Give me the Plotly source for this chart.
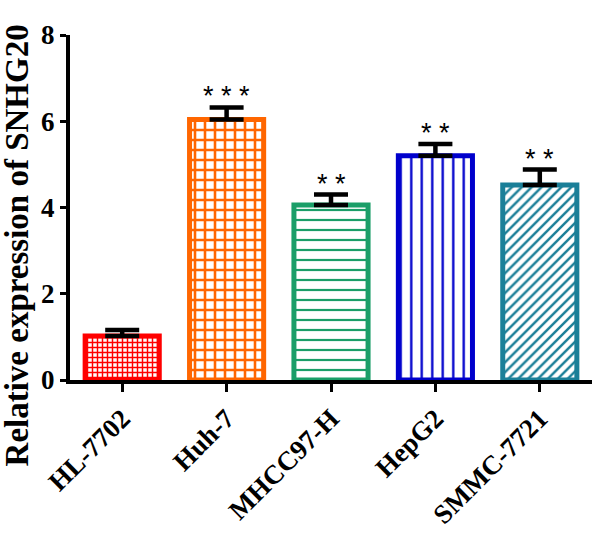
import plotly.graph_objects as go

cells = ["HL-7702", "Huh-7", "MHCC97-H", "HepG2", "SMMC-7721"]
expr = [1.02, 6.04, 4.06, 5.2, 4.52]
sem = [0.14, 0.28, 0.24, 0.27, 0.36]
stars = ["", "***", "**", "**", "**"]

colors = ["#FF0000", "#FF6600", "#1A9E68", "#0000CC", "#1A7F98"]
shapes = ["+", "+", "-", "|", "/"]
sizes = [5, 10, 10, 10.5, 7]
solid = [0.5, 0.45, 0.22, 0.22, 0.35]

font = "Liberation Serif"

fig = go.Figure()
for i, c in enumerate(cells):
    fig.add_trace(go.Bar(
        x=[c], y=[expr[i]],
        width=0.71,
        marker=dict(
            color="white",
            line=dict(color=colors[i], width=5),
            pattern=dict(shape=shapes[i], fgcolor=colors[i], bgcolor="white",
                         fgopacity=1, size=sizes[i], solidity=solid[i],
                         fillmode="replace"),
        ),
        error_y=dict(type="data", array=[sem[i]], arrayminus=[0], symmetric=False,
                     color="black", thickness=4.5, width=17),
        showlegend=False,
    ))

# significance marks above the error bars
for i, c in enumerate(cells):
    if stars[i]:
        fig.add_annotation(x=c, y=expr[i] + sem[i], text=" ".join(stars[i]),
                           showarrow=False, yanchor="bottom", yshift=-6,
                           font=dict(family="Liberation Sans", size=27, color="black"))

# y title as a free annotation (it sits lower than the axis centre in the original)
fig.add_annotation(xref="paper", yref="paper", x=0, y=0.39, xshift=-33,
                   xanchor="right", yanchor="middle", textangle=-90, showarrow=False,
                   text="Relative expression of SNHG20",
                   font=dict(family=font, size=33, color="black", weight="bold"))

fig.update_layout(
    width=600, height=533,
    margin=dict(l=70, r=8, t=35, b=153),
    paper_bgcolor="white", plot_bgcolor="white",
    font=dict(family=font, color="black"),
)
fig.update_xaxes(
    type="category", range=[-0.5, 4.5], automargin=False,
    showline=True, linewidth=4, linecolor="black",
    ticks="outside", ticklen=8, tickwidth=3, tickcolor="black",
    tickangle=-45, tickfont=dict(family=font, size=27, color="black", weight="bold"),
)
fig.update_yaxes(
    range=[0, 8], tickvals=[0, 2, 4, 6, 8], automargin=False,
    showline=True, linewidth=4, linecolor="black",
    ticks="outside", ticklen=6, tickwidth=3, tickcolor="black",
    showgrid=False, zeroline=False,
    tickfont=dict(family=font, size=27, color="black", weight="bold"),
)

fig.write_html("out.html", config={"displayModeBar": False},
               post_script="document.body.style.margin='0';")
